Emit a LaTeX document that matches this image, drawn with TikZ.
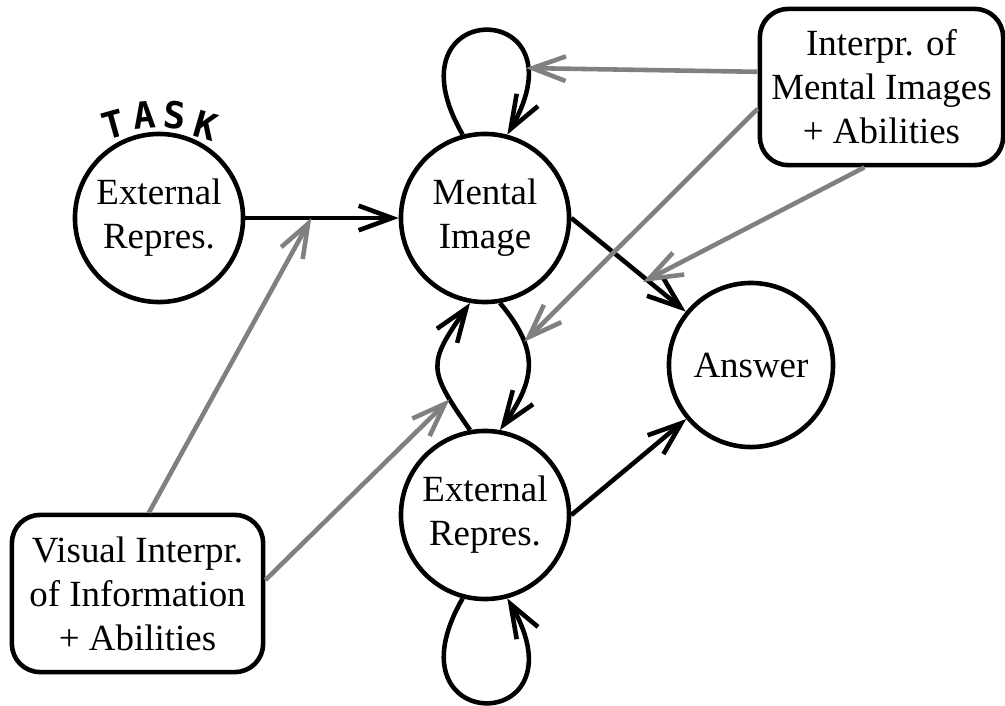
\documentclass[tikz,border=0pt]{standalone}
\usepackage{fontspec}
\setmainfont{Liberation Serif}
\newfontfamily\taskfont{DejaVu Sans Mono}
\usetikzlibrary{arrows.meta}
\begin{document}
\begin{tikzpicture}[x=0.01cm, y=0.01cm,
    state/.style={circle, draw, line width=1.3pt, minimum size=1.68cm, inner sep=0pt, align=center, font=\fontsize{10.5}{12.5}\selectfont},
    info/.style={rectangle, rounded corners=0.28cm, draw, line width=1.3pt, inner sep=0pt, align=center, font=\fontsize{10.5}{12.5}\selectfont},
    arr/.style={line width=1.3pt, -{Straight Barb[length=9.5pt,width=7pt]}},
    garr/.style={arr, gray}]
  \useasboundingbox (0,0) rectangle (1005,705);

  % states
  \node[state] (ext) at (159,487) {External\\Repres.};
  \node[state] (mi) at (485,487) {Mental\\Image};
  \node[state] (er) at (485,190) {External\\Repres.};
  \node[state, minimum size=1.64cm] (ans) at (751,340) {Answer};

  % abilities
  \node[info, minimum width=2.43cm, minimum height=1.56cm] (ibox) at (881.5,618) {Interpr. of\\Mental Images\\+ Abilities};
  \node[info, minimum width=2.51cm, minimum height=1.57cm] (vbox) at (137.5,111.5) {Visual Interpr.\\of Information\\+ Abilities};

  % TASK label
  \foreach \ch/\ang in {T/116,A/98,S/81,K/63}
    \node[font=\taskfont\bfseries\fontsize{10.5}{10.5}\selectfont, rotate=(\ang-90)*0.6, inner sep=0pt] (task\ch) at ([shift={(\ang:104)}]ext.center) {\ch};

  % main flow
  \draw[arr] (ext) -- coordinate[pos=0.43] (extmi) (mi);
  \draw[arr] (mi.east) -- (ans);
  \draw[arr] (er.east) -- (ans);

  % loops
  \draw[arr] (mi.105) to[out=120, in=60, distance=1.6cm] coordinate[pos=0.8] (mitop) (mi.75);
  \draw[arr] (er.255) to[out=240, in=300, distance=1.6cm] (er.285);
  \draw[arr] (er.100) to[out=125, in=235, looseness=1.5] coordinate[pos=0.2] (erup) (mi.260);
  \draw[arr] (mi.280) to[out=-50, in=55, looseness=1.25] coordinate[pos=0.3] (midown) (er.80);

  % influences
  \coordinate (ansgap) at (643,423);
  \draw[garr] (ibox.173) -- (mitop);
  \draw[garr] (ibox.190) -- (midown);
  \draw[garr] (ibox.258) -- (ansgap);
  \draw[garr] (vbox.82) -- (extmi);
  \draw[garr] (vbox.6) -- (erup);
\end{tikzpicture}
\end{document}
